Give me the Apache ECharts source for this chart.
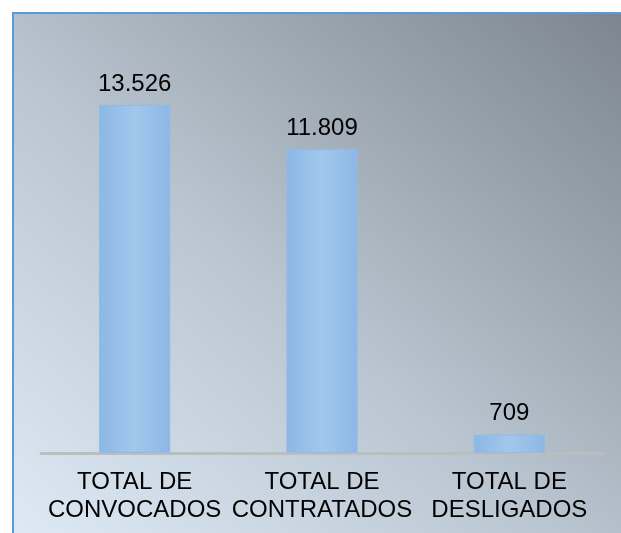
<!DOCTYPE html>
<html>
<head>
<meta charset="utf-8">
<script src="https://cdn.jsdelivr.net/npm/echarts@6/dist/echarts.min.js"></script>
<style>
  html, body { margin: 0; padding: 0; background: #fff; overflow: hidden; }
  #panel {
    position: absolute; left: 12px; top: 12px; width: 607px; height: 519px;
    border-left: 2px solid #5b9bd5; border-top: 2px solid #5b9bd5;
    background: linear-gradient(to top right, #dde9f5 0%, #b9c5d0 45%, #7d8690 100%);
  }
  #chart { position: absolute; left: 0; top: 0; width: 621px; height: 533px; }
</style>
</head>
<body>
<div id="panel"></div>
<div id="chart"></div>
<script>
// categories and values
var categories = ['TOTAL DE\nCONVOCADOS', 'TOTAL DE\nCONTRATADOS', 'TOTAL DE\nDESLIGADOS'];
var values = [13526, 11809, 709];

// pt-BR style thousands separator
function fmt(v) {
  return String(v).replace(/\B(?=(\d{3})+(?!\d))/g, '.');
}

var myChart = echarts.init(document.getElementById('chart'));

myChart.setOption({
  backgroundColor: 'transparent',
  animation: false,
  grid: { left: 41, right: 18, top: 67, bottom: 80 },
  xAxis: {
    type: 'category',
    data: categories,
    axisLine: { lineStyle: { color: '#bdbdbd', width: 3 } },
    axisTick: { show: false },
    axisLabel: {
      interval: 0,
      margin: 15,
      color: '#000',
      fontFamily: 'Liberation Sans',
      fontSize: 24,
      lineHeight: 28
    }
  },
  yAxis: {
    type: 'value',
    min: 0,
    max: 15000,
    show: false,
    splitLine: { show: false }
  },
  series: [{
    type: 'bar',
    data: values,
    barWidth: '38%',
    itemStyle: {
      color: new echarts.graphic.LinearGradient(0, 0, 1, 0, [
        { offset: 0, color: '#8cb8e6' },
        { offset: 0.5, color: '#a2c7eb' },
        { offset: 1, color: '#8cb8e6' }
      ]),
      borderColor: '#91bbe6',
      borderWidth: 1
    },
    label: {
      show: true,
      position: 'top',
      distance: 9,
      color: '#000',
      fontFamily: 'Liberation Sans',
      fontSize: 24,
      formatter: function (p) { return fmt(p.value); }
    }
  }]
});
</script>
</body>
</html>
